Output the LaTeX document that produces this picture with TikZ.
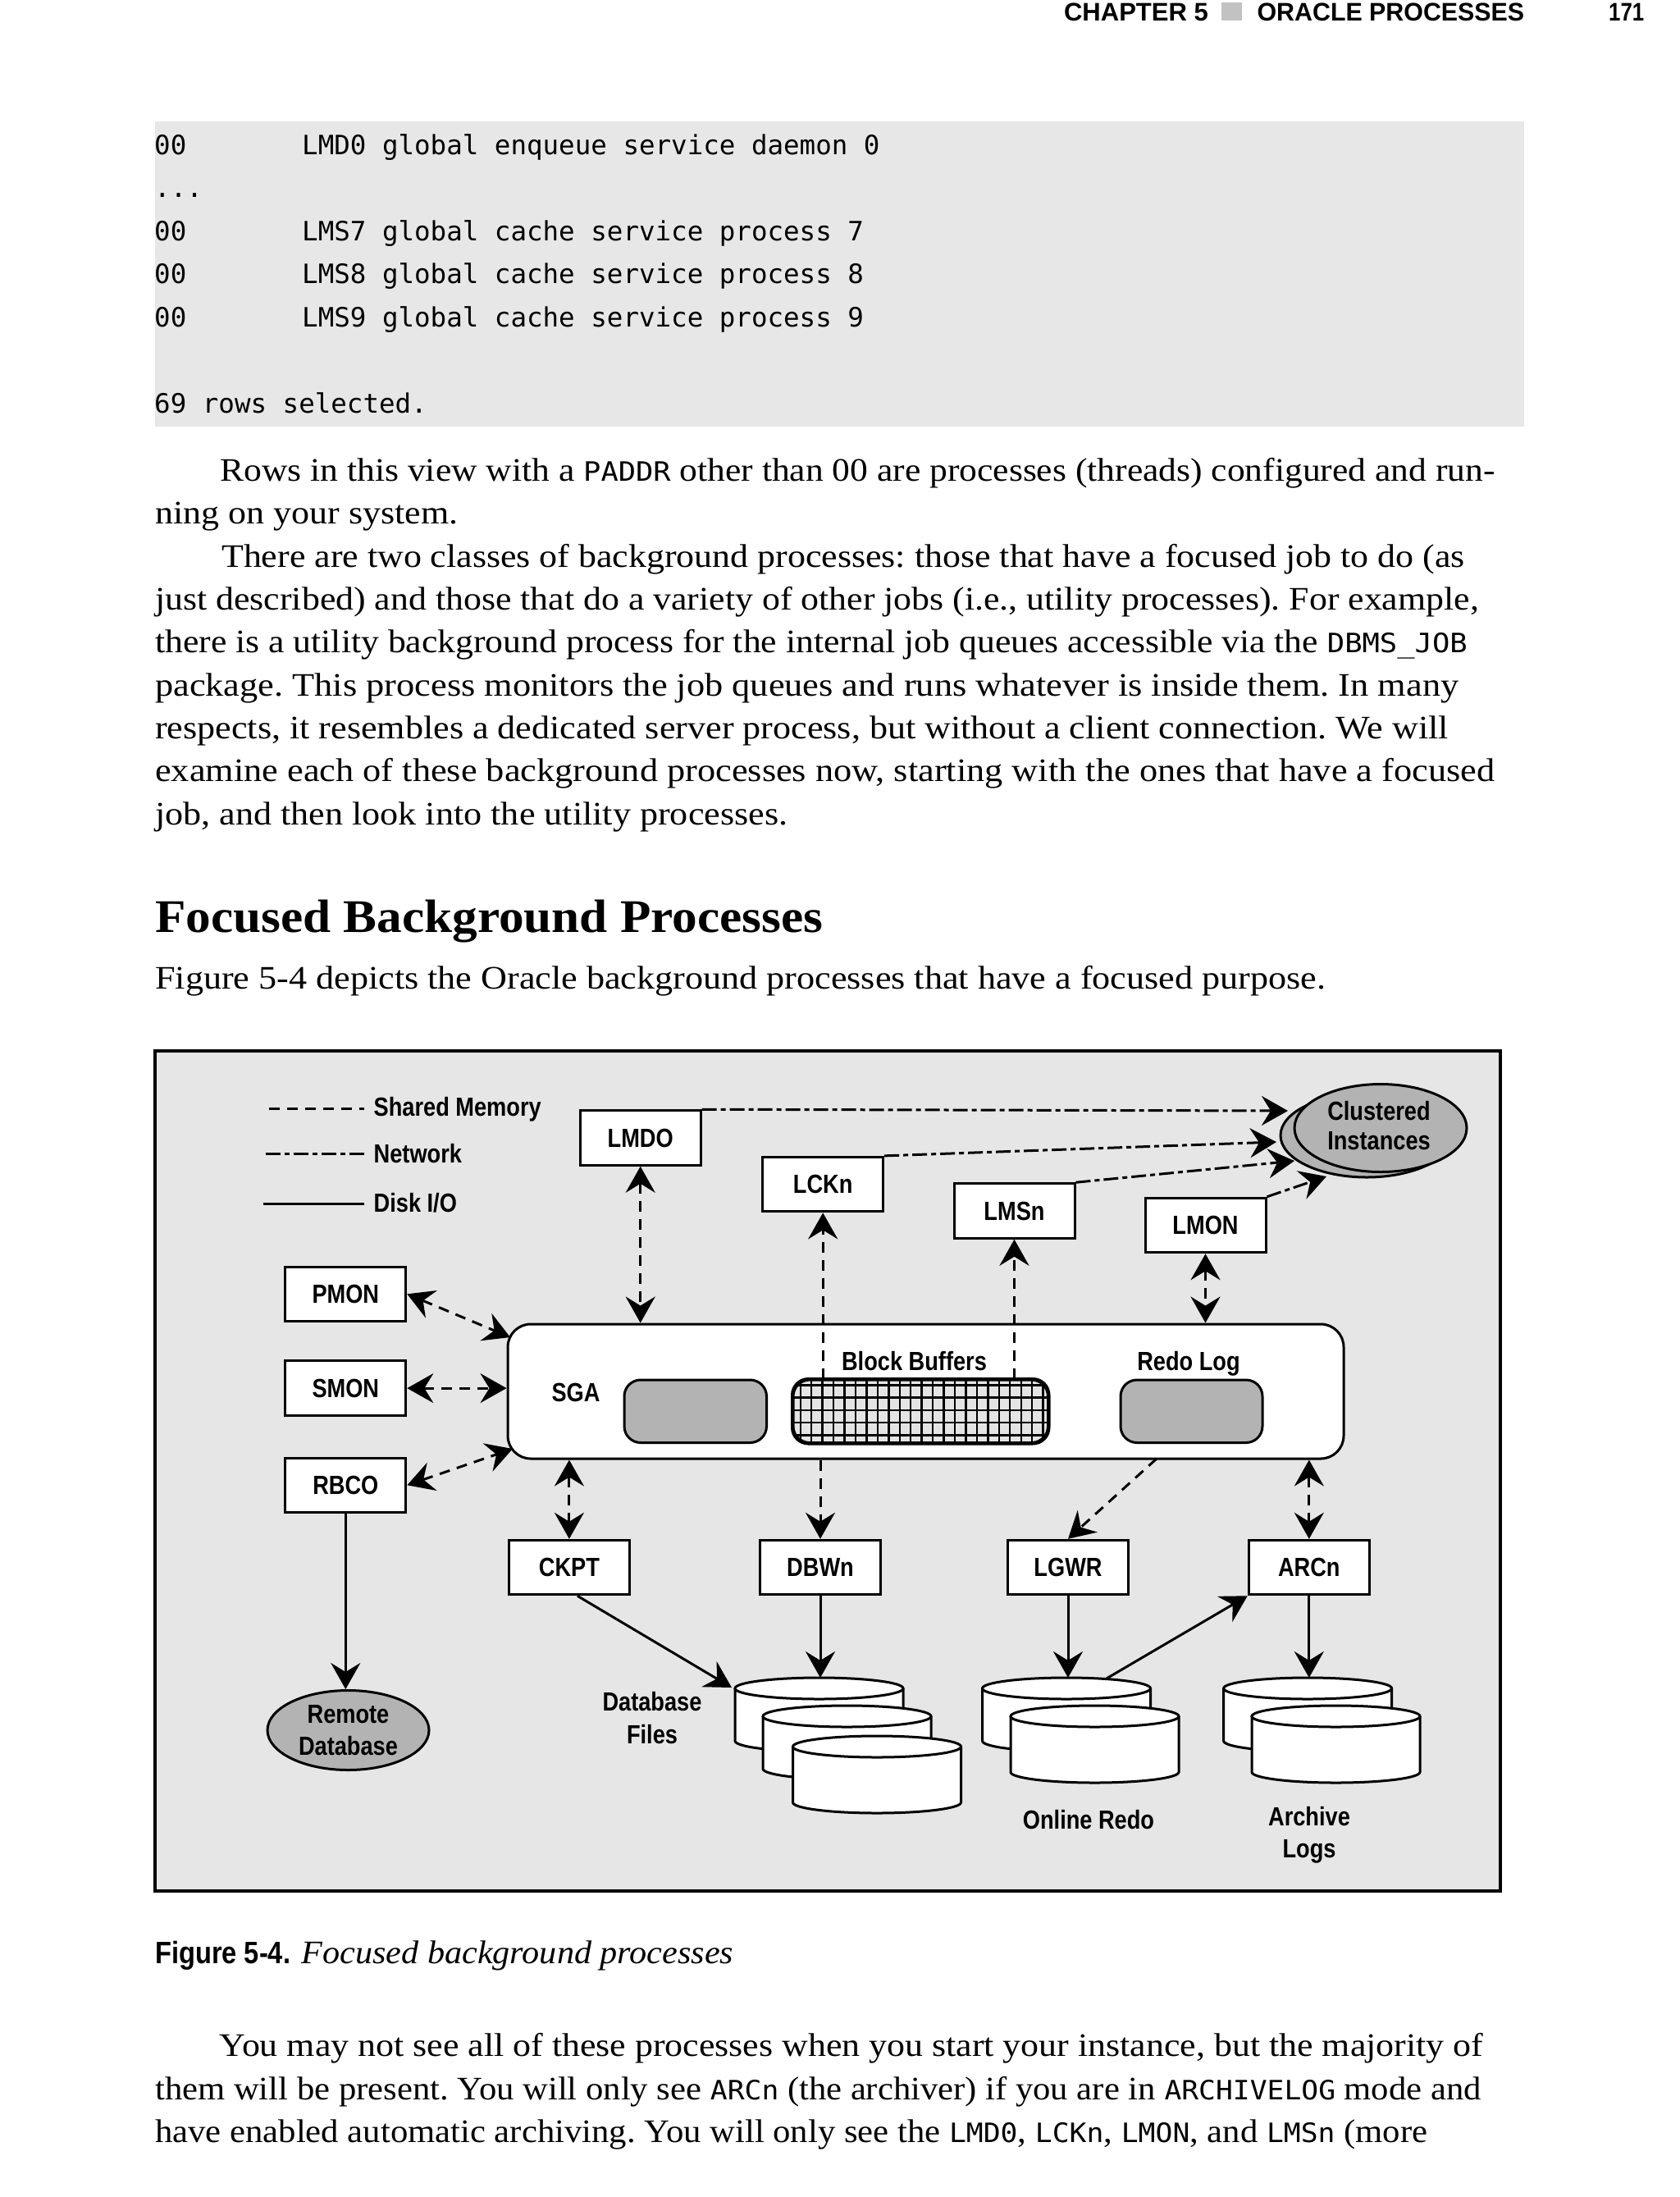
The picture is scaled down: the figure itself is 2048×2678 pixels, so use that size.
\documentclass[tikz,border=0pt]{standalone}
\usepackage{fontspec}
\usepackage{graphicx}
\setmainfont{Liberation Serif}
\newfontfamily\labfam{Liberation Sans}[FakeStretch=0.85]
\newfontfamily\cmono{DejaVu Sans Mono}
\usetikzlibrary{arrows.meta,shapes.geometric}
\definecolor{figbg}{HTML}{E6E6E6}
\definecolor{codebg}{HTML}{E7E7E7}
\definecolor{midgrey}{HTML}{B3B3B3}
\definecolor{hdrgrey}{HTML}{C2C2C2}
\definecolor{cellg}{HTML}{E4E4E4}
\frenchspacing
\newcommand\bodyf{\fontsize{40}{52}\selectfont}
\newcommand\labf{\labfam\bfseries\fontsize{32}{37}\selectfont}
\newcommand\codef{\cmono\fontsize{32.5}{52}\selectfont}
\newcommand\icode[1]{{\cmono\fontsize{32.5}{40}\selectfont #1}}
\newcommand\fitl[2]{\resizebox{#1pt}{\height}{#2}}
\newcommand\dbcyl[3]{%
  \filldraw[fill=white,line width=3pt] (#1,#2+13) -- (#1,#3-13) arc[start angle=180,end angle=0,x radius=102.5,y radius=13] -- (#1+205,#2+13);
  \filldraw[fill=white,line width=3pt] (#1+102.5,#2+13) ellipse[x radius=102.5,y radius=13];
}
\tikzset{
  box/.style={draw, fill=white, line width=3pt, minimum width=147pt, minimum height=66.5pt, inner sep=0pt, font=\labf},
  subbox/.style={draw, line width=3pt, rounded corners=20pt, minimum height=76.5pt, inner sep=0pt},
  lbl/.style={anchor=base, inner sep=0pt, font=\labf},
  tl/.style={anchor=base west, inner sep=0pt, font=\bodyf},
  cl/.style={anchor=base west, inner sep=0pt, font=\codef},
  shm/.style={line width=3pt, dash pattern=on 13pt off 9pt},
  net/.style={line width=3pt, dash pattern=on 18pt off 5pt on 6pt off 5pt},
  dio/.style={line width=3pt},
  >={Stealth[length=32pt,width=36pt,inset=11pt]},
}
\begin{document}
\begin{tikzpicture}[x=1pt,y=-1pt]
\useasboundingbox (0,0) rectangle (2048,2678);
\fill[white] (0,0) rectangle (2048,2678);
% ---------- running head
\node[anchor=base west,inner sep=0pt] (h1) at (1296.8,25) {\fitl{176}{\labfam\bfseries\fontsize{31}{31}\selectfont CHAPTER 5}};
\fill[hdrgrey] (1489,3.3) rectangle (1513.6,25);
\node[anchor=base west,inner sep=0pt] (h2) at (1532.4,25) {\fitl{325.6}{\labfam\bfseries\fontsize{31}{31}\selectfont ORACLE PROCESSES}};
\node[anchor=base west,inner sep=0pt] (h3) at (1961,25) {\fitl{43}{\labfam\bfseries\fontsize{31}{31}\selectfont 171}};
% ---------- code listing
\fill[codebg] (189,148) rectangle (1858,520);
\node[cl] (c1a) at (188,188) {00};
\node[cl] (c1b) at (368,188) {LMD0 global enqueue service daemon 0};
\node[cl] (c2a) at (188,240.5) {...};
\node[cl] (c3a) at (188,293) {00};
\node[cl] (c3b) at (368,293) {LMS7 global cache service process 7};
\node[cl] (c4a) at (188,345.5) {00};
\node[cl] (c4b) at (368,345.5) {LMS8 global cache service process 8};
\node[cl] (c5a) at (188,398) {00};
\node[cl] (c5b) at (368,398) {LMS9 global cache service process 9};
\node[cl] (c6a) at (188,503) {69 rows selected.};
% ---------- body text
\node[tl] (t1) at (268.3,586) {\fitl{1554}{Rows in this view with a \icode{PADDR} other than 00 are processes (threads) configured and run-}};
\node[tl] (t2) at (189,638.5) {\fitl{369}{ning on your system.}};
\node[tl] (t3) at (270,691) {\fitl{1515.5}{There are two classes of background processes: those that have a focused job to do (as}};
\node[tl] (t4) at (189,743) {\fitl{1613.5}{just described) and those that do a variety of other jobs (i.e., utility processes). For example,}};
\node[tl] (t5) at (189,795.5) {\fitl{1599.5}{there is a utility background process for the internal job queues accessible via the \icode{DBMS\_JOB}}};
\node[tl] (t6) at (189,848) {\fitl{1589}{package. This process monitors the job queues and runs whatever is inside them. In many}};
\node[tl] (t7) at (189,900) {\fitl{1576.5}{respects, it resembles a dedicated server process, but without a client connection. We will}};
\node[tl] (t8) at (189,952.5) {\fitl{1633}{examine each of these background processes now, starting with the ones that have a focused}};
\node[tl] (t9) at (189,1005) {\fitl{771}{job, and then look into the utility processes.}};
\node[tl] (hd) at (189,1136) {\fitl{814}{\bfseries\fontsize{57}{60}\selectfont Focused Background Processes}};
\node[tl] (t10) at (189,1205) {\fitl{1427}{Figure 5-4 depicts the Oracle background processes that have a focused purpose.}};
% ---------- figure frame
\filldraw[fill=figbg,line width=3.5pt] (189,1281) rectangle (1829,2305);
% legend
\draw[shm] (328,1351.5) -- (444,1351.5);
\draw[net] (323.5,1406) -- (444,1406);
\draw[dio] (320.6,1467) -- (444,1467);
\node[lbl,anchor=base west] (lg1) at (455.5,1360) {Shared Memory};
\node[lbl,anchor=base west] (lg2) at (455.5,1417.5) {Network};
\node[lbl,anchor=base west] (lg3) at (455.5,1477) {Disk I/O};
% clustered instances
\node[ellipse,draw,fill=midgrey,line width=3pt,minimum width=210pt,minimum height=102pt,inner sep=0pt] (clb) at (1666,1384) {};
\node[ellipse,draw,fill=midgrey,line width=3pt,minimum width=210pt,minimum height=107pt,inner sep=0pt] (clf) at (1683,1375) {};
\node[lbl] (cltx1) at (1681,1365) {Clustered};
\node[lbl] (cltx2) at (1681,1401.7) {Instances};
% process boxes
\node[box] (lmd) at (780.7,1387) {LMDO};
\node[box] (lck) at (1003.2,1443.6) {LCKn};
\node[box] (lms) at (1236.5,1476) {LMSn};
\node[box] (lmon) at (1469.5,1493.5) {LMON};
\node[box] (pmon) at (421.3,1577.3) {PMON};
\node[box] (smon) at (421.3,1692.1) {SMON};
\node[box] (rbco) at (421.3,1810.3) {RBCO};
\node[box] (ckpt) at (693.9,1910.5) {CKPT};
\node[box] (dbw) at (1000,1910.5) {DBWn};
\node[box] (lgwr) at (1302,1910.5) {LGWR};
\node[box] (arc) at (1595.8,1910.5) {ARCn};
% SGA
\node[draw,fill=white,line width=3pt,rounded corners=28pt,minimum width=1019pt,minimum height=164pt,inner sep=0pt] (sga) at (1128.5,1696) {};
\node[lbl] (sgatx) at (702,1708) {SGA};
\node[subbox,fill=midgrey,minimum width=173.5pt] (pool) at (847.75,1720.25) {};
\node[subbox,fill=cellg,minimum width=310.5pt] (bb) at (1122.25,1720.25) {};
\begin{scope}
  \clip[rounded corners=20pt] (bb.south west) rectangle (bb.north east);
  \foreach \i in {0,...,22} \draw[line width=2.4pt] (975.7+\i*13.45,1670) -- (975.7+\i*13.45,1770);
  \foreach \j in {0,...,4} \draw[line width=2.4pt] (955,1688.3+\j*15.3) -- (1290,1688.3+\j*15.3);
\end{scope}
\draw[line width=3pt,rounded corners=20pt] (bb.south west) rectangle (bb.north east);
\node[subbox,fill=midgrey,minimum width=173pt] (redo) at (1452.5,1720.25) {};
\node[lbl] (bbtx) at (1114.5,1670) {Block Buffers};
\node[lbl] (rdtx) at (1449,1670) {Redo Log};
% remote database
\node[ellipse,draw,fill=midgrey,line width=3pt,minimum width=197pt,minimum height=97pt,inner sep=0pt] (rdb) at (424.5,2109) {};
\node[lbl] (rdb1) at (424.5,2100) {Remote};
\node[lbl] (rdb2) at (424.5,2139) {Database};
% disks
\dbcyl{896}{2045}{2135}
\dbcyl{930}{2079}{2169}
\dbcyl{966.5}{2116}{2210}
\dbcyl{1197.5}{2045}{2135}
\dbcyl{1232}{2079}{2173}
\dbcyl{1491.6}{2045}{2135}
\dbcyl{1526}{2079}{2173}
\node[lbl] (dbf1) at (795,2085) {Database};
\node[lbl] (dbf2) at (795,2125) {Files};
\node[lbl] (onl) at (1327,2229) {Online Redo};
\node[lbl] (arl1) at (1596,2225) {Archive};
\node[lbl] (arl2) at (1596,2264) {Logs};
% named free ends
\coordinate (k1) at (1570,1354);
\coordinate (k2) at (1556,1392);
\coordinate (k3) at (1578,1415);
\coordinate (k4) at (1617,1434);
\coordinate (sgapm) at (622,1630);
\coordinate (sgarb) at (625,1766);
\coordinate (rdst) at (1410,1778);
\coordinate (dbl) at (892,2057);
\coordinate (dbtop) at (998.5,2045);
\coordinate (ortop) at (1300,2045);
\coordinate (artop) at (1594,2045);
\coordinate (orb) at (1348,2046.5);
% network connectors
\draw[net,->] (lmd.north east) -- (k1);
\draw[net,->] (lck.north east) -- (k2);
\draw[net,->] (lms.north east) -- (k3);
\draw[net,->] (lmon.north east) -- (k4);
% shared memory connectors
\draw[shm,<->] (lmd.south) -- (lmd.south |- sga.north);
\draw[shm,->] (bb.north -| lck.south) -- (lck.south);
\draw[shm,->] (bb.north -| lms.south) -- (lms.south);
\draw[shm,<->] (lmon.south) -- (lmon.south |- sga.north);
\draw[shm,<->] (pmon.east) -- (sgapm);
\draw[shm,<->] (smon.east) -- (smon.east -| sga.west);
\draw[shm,<->] (rbco.east) -- (sgarb);
\draw[shm,<->] (ckpt.north |- sga.south) -- (ckpt.north);
\draw[shm,->] (dbw.north |- sga.south) -- (dbw.north);
\draw[shm,->] (rdst) -- (lgwr.north);
\draw[shm,<->] (arc.north |- sga.south) -- (arc.north);
% disk I/O connectors
\draw[dio,->] (rbco.south) -- (rbco.south |- rdb.north);
\draw[dio,->] ([xshift=10pt]ckpt.south) -- (dbl);
\draw[dio,->] (dbw.south) -- (dbw.south |- dbtop);
\draw[dio,->] (lgwr.south) -- (lgwr.south |- ortop);
\draw[dio,->] (orb) -- (arc.south west);
\draw[dio,->] (arc.south) -- (arc.south |- artop);
% ---------- caption
\node[anchor=base west,inner sep=0pt] (cap1) at (189,2393) {\fitl{165}{\labfam\bfseries\fontsize{37.7}{40}\selectfont Figure 5-4.}};
\node[anchor=base west,inner sep=0pt] (cap2) at (367.5,2393) {\fitl{526.5}{\itshape\bodyf Focused background processes}};
% ---------- closing paragraph
\node[tl] (u1) at (267.5,2506.5) {\fitl{1540.5}{You may not see all of these processes when you start your instance, but the majority of}};
\node[tl] (u2) at (189,2559) {\fitl{1616.5}{them will be present. You will only see \icode{ARCn} (the archiver) if you are in \icode{ARCHIVELOG} mode and}};
\node[tl] (u3) at (189,2611.5) {\fitl{1551}{have enabled automatic archiving. You will only see the \icode{LMD0}, \icode{LCKn}, \icode{LMON}, and \icode{LMSn} (more}};
\end{tikzpicture}
\end{document}
